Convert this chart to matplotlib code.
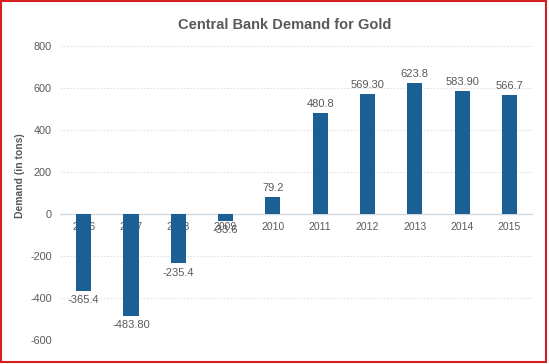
import matplotlib
matplotlib.use("Agg")
import matplotlib.pyplot as plt
from matplotlib.patches import Rectangle

plt.rcParams['font.family'] = ['Liberation Sans', 'DejaVu Sans']

years = ['2006', '2007', '2008', '2009', '2010', '2011', '2012', '2013', '2014', '2015']
demand = [-365.4, -483.8, -235.4, -33.6, 79.2, 480.8, 569.3, 623.8, 583.9, 566.7]
value_labels = ['-365.4', '-483.80', '-235.4', '-33.6', '79.2', '480.8', '569.30', '623.8', '583.90', '566.7']
yticks = [-600, -400, -200, 0, 200, 400, 600, 800]

gray = '#595959'
bar_color = '#1b6094'

fig = plt.figure(figsize=(5.49, 3.64), dpi=100)
ax = fig.add_axes([0.1093, 0.0659, 0.8616, 0.8077])

x = list(range(len(years)))
ax.bar(x, demand, width=0.32, color=bar_color, zorder=3)

ax.set_xlim(-0.5, len(years) - 0.5)
ax.set_ylim(-600, 800)
ax.set_yticks(yticks)
ax.set_yticklabels([str(t) for t in yticks], fontsize=7.8, color=gray)
ax.set_xticks([])
ax.tick_params(axis='y', length=0, pad=6)

for t in yticks:
    if t == 0:
        ax.axhline(0, color='#d0d8e0', lw=1.0, zorder=1)
    else:
        ax.axhline(t, color='#e2e2e2', lw=0.8, ls=(0, (1.5, 1.5)), zorder=1)

for s in ax.spines.values():
    s.set_visible(False)

# category labels sit just under the zero line, behind the bars
for i, yr in enumerate(years):
    ax.annotate(yr, (i, 0), xytext=(0, -6), textcoords='offset points',
                ha='center', va='top', fontsize=7.5, color=gray, zorder=2)

for i, (v, lab) in enumerate(zip(demand, value_labels)):
    if v >= 0:
        ax.annotate(lab, (i, v), xytext=(0, 3), textcoords='offset points',
                    ha='center', va='bottom', fontsize=8, color=gray, zorder=4)
    else:
        ax.annotate(lab, (i, v), xytext=(0, -3), textcoords='offset points',
                    ha='center', va='top', fontsize=8, color=gray, zorder=4)

ax.set_ylabel('Demand (in tons)', fontsize=7.5, fontweight='bold', color=gray)
ax.yaxis.set_label_coords(-0.074, 0.56)

fig.text(0.518, 0.931, 'Central Bank Demand for Gold', ha='center', va='center',
         fontsize=10.5, fontweight='bold', color=gray)

# red screenshot frame
fig.patches.append(Rectangle((0.002, 0.005), 0.993, 0.992, transform=fig.transFigure,
                             fill=False, edgecolor='#d42020', lw=1.5))

fig.savefig('out.png', dpi=100)
